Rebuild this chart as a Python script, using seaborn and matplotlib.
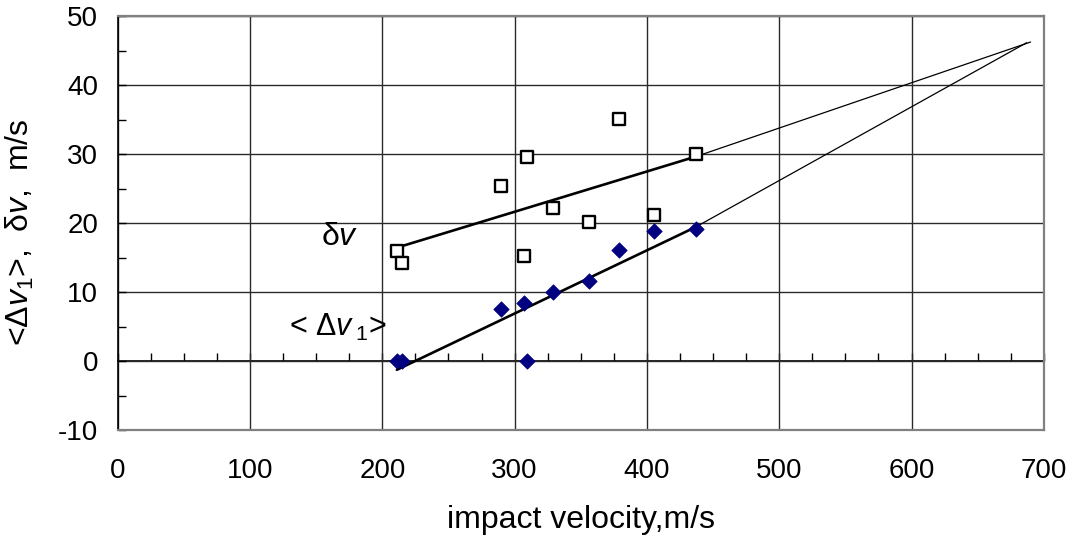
import matplotlib
matplotlib.use('Agg')
import matplotlib.pyplot as plt
import seaborn as sns
import pandas as pd
from matplotlib.ticker import MultipleLocator

# ---- data ----
impact_velocity = [211, 215, 290, 307, 309, 329, 356, 379, 405, 437]
delta_v = [16.0, 14.3, 25.4, 15.3, 29.6, 22.3, 20.2, 35.2, 21.3, 30.0]
mean_dv1 = [0.0, 0.0, 7.6, 8.5, 0.0, 10.0, 11.7, 16.1, 18.9, 19.2]

dv_fit_x = [211, 437]
dv_fit_y = [16.5, 29.7]
dv_ext_x = [437, 690]
dv_ext_y = [29.7, 46.3]

dv1_fit_x = [211, 437]
dv1_fit_y = [-1.2, 19.5]
dv1_ext_x = [437, 687]
dv1_ext_y = [19.5, 46.2]

x_ticks = [0, 100, 200, 300, 400, 500, 600, 700]
y_ticks = [-10, 0, 10, 20, 30, 40, 50]

sns.set_theme(style='white')
plt.rcParams['font.family'] = ['Liberation Sans', 'DejaVu Sans']
plt.rcParams['mathtext.fontset'] = 'custom'
plt.rcParams['mathtext.rm'] = 'Liberation Sans'
plt.rcParams['mathtext.it'] = 'Liberation Sans:italic'
for key in ['text.color', 'axes.labelcolor', 'xtick.color', 'ytick.color',
            'xtick.labelcolor', 'ytick.labelcolor']:
    plt.rcParams[key] = 'black'

fig = plt.figure(figsize=(10.75, 5.39), dpi=100)
ax = fig.add_axes([0.1095, 0.2013, 0.8615, 0.7681])

df_sq = pd.DataFrame({'x': impact_velocity, 'y': delta_v})
df_di = pd.DataFrame({'x': impact_velocity, 'y': mean_dv1})

# fit lines
sns.lineplot(x=dv_fit_x, y=dv_fit_y, ax=ax, color='black', lw=1.9,
             estimator=None, sort=False, zorder=3)
sns.lineplot(x=dv_ext_x, y=dv_ext_y, ax=ax, color='black', lw=0.9,
             estimator=None, sort=False, zorder=3)
sns.lineplot(x=dv1_fit_x, y=dv1_fit_y, ax=ax, color='black', lw=1.9,
             estimator=None, sort=False, zorder=3)
sns.lineplot(x=dv1_ext_x, y=dv1_ext_y, ax=ax, color='black', lw=0.9,
             estimator=None, sort=False, zorder=3)

# points
sns.scatterplot(data=df_sq, x='x', y='y', ax=ax, marker='s', s=80,
                facecolor='white', edgecolor='black', linewidth=1.7, zorder=4)
sns.scatterplot(data=df_di, x='x', y='y', ax=ax, marker='D', s=62,
                color='#000080', edgecolor='#000080', linewidth=0.5, zorder=4)

ax.set_xlim(0, 700)
ax.set_ylim(-10, 50)
ax.set_xticks(x_ticks)
ax.set_yticks(y_ticks)
ax.set_xticklabels([str(v) for v in x_ticks])
ax.set_yticklabels([str(v) for v in y_ticks])
ax.yaxis.set_minor_locator(MultipleLocator(5))

ax.grid(True, which='major', color='#2a2a2a', lw=1.0)
ax.set_axisbelow(True)

ax.tick_params(axis='y', which='both', direction='in', length=6, width=1,
               color='black', left=True, labelsize=20, pad=14)
ax.tick_params(axis='x', which='both', length=0, labelsize=20, pad=20)

for side in ['top', 'right', 'bottom']:
    ax.spines[side].set_color('#808080')
    ax.spines[side].set_linewidth(1.6)
ax.spines['left'].set_color('black')
ax.spines['left'].set_linewidth(1.2)

# zero axis line with minor ticks
secax = ax.secondary_xaxis(1 / 6)
secax.xaxis.set_major_locator(MultipleLocator(25))
secax.tick_params(direction='in', length=6, width=1, color='black',
                  labelbottom=False)
secax.spines['bottom'].set_color('black')
secax.spines['bottom'].set_linewidth(1.2)

ax.set_xlabel('impact velocity,m/s', fontsize=23)
ax.xaxis.set_label_coords(0.5, -0.18)
ax.set_ylabel('<Δ$\\mathit{v}_1$>,  δ$\\mathit{v}$,  m/s', fontsize=23)
ax.yaxis.set_label_coords(-0.088, 0.48)

ax.text(168, 18.1, 'δ$\\mathit{v}$', ha='center', va='center', fontsize=23)
ax.text(166, 5.0, '< Δ$\\mathit{v}\\,_1$>', ha='center', va='center', fontsize=22)

fig.savefig('out.png', dpi=100, facecolor='white')
